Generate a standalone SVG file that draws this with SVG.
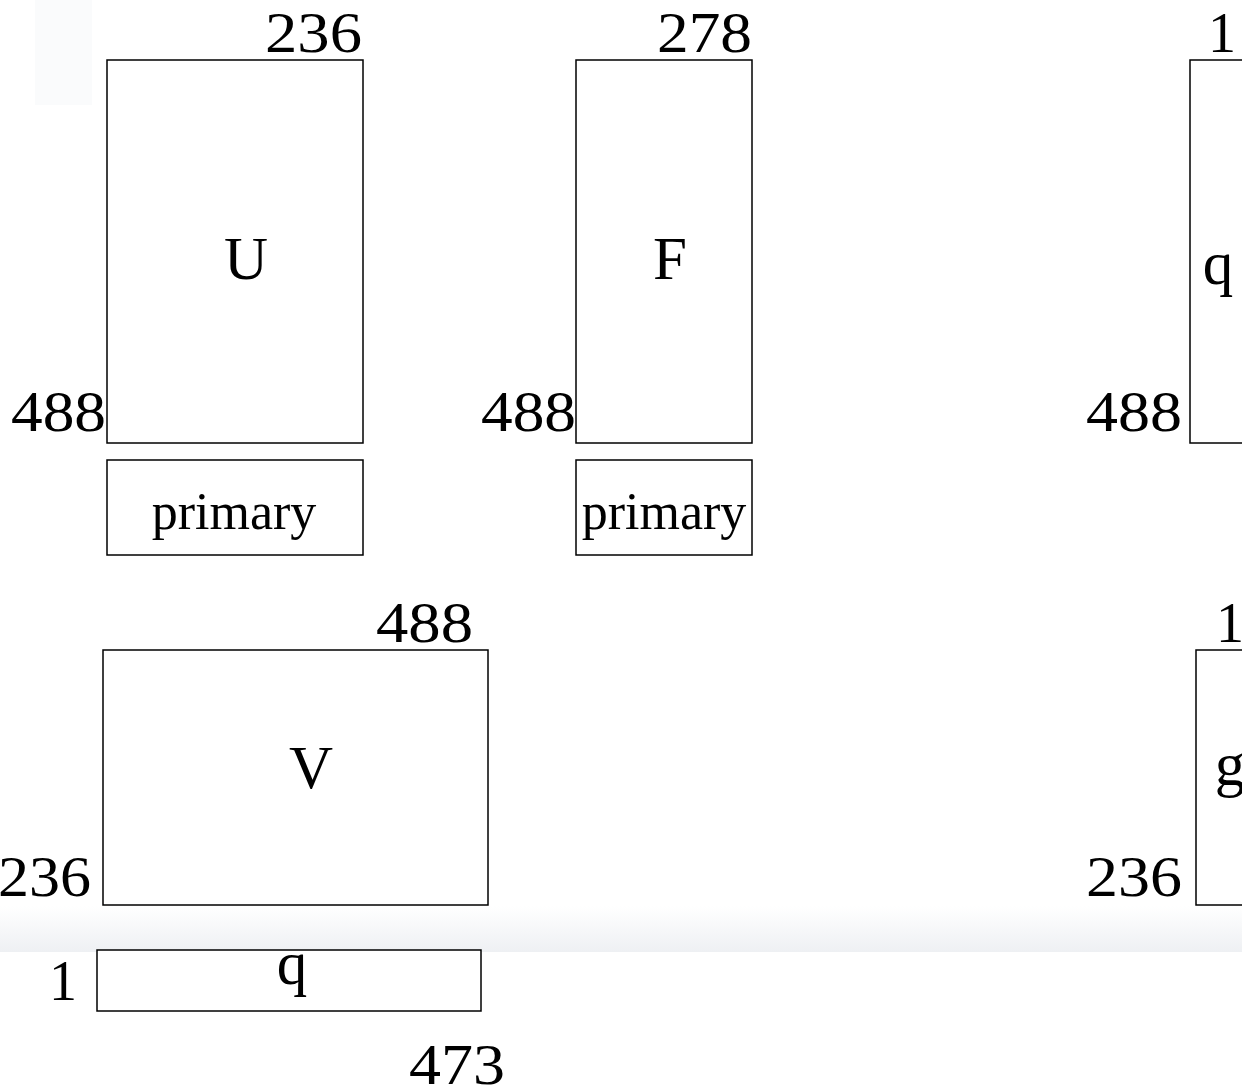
<svg xmlns="http://www.w3.org/2000/svg" width="1242" height="1091" viewBox="0 0 1242 1091">
  <style>
    .box { fill: #ffffff; stroke: #000000; stroke-width: 1.5; }
    .num { font-family: "Liberation Serif", "Times New Roman", serif; font-size: 56px; fill: #000000; }
    .name { font-family: "Liberation Serif", "Times New Roman", serif; font-size: 61px; fill: #000000; text-anchor: middle; }
    .tag { font-family: "Liberation Serif", "Times New Roman", serif; font-size: 52px; fill: #000000; text-anchor: middle; }
  </style>
  <defs>
    <linearGradient id="band" x1="0" y1="0" x2="0" y2="1">
      <stop offset="0" stop-color="#ffffff"/>
      <stop offset="1" stop-color="#eef0f3"/>
    </linearGradient>
  </defs>
  <rect width="1242" height="1091" fill="#ffffff"/>
  <rect x="35" y="0" width="57" height="105" fill="#fafbfc"/>
  <rect x="0" y="906" width="1242" height="46" fill="url(#band)"/>

  <g id="node-U">
    <rect class="box" x="107" y="60" width="256" height="383"/>
    <text class="num" x="265" y="52" textLength="97" lengthAdjust="spacingAndGlyphs">236</text>
    <text class="num" x="11" y="431" textLength="95" lengthAdjust="spacingAndGlyphs">488</text>
    <text class="name" x="246" y="279">U</text>
  </g>
  <g id="node-U-primary">
    <rect class="box" x="107" y="460" width="256" height="95"/>
    <text class="tag" x="234" y="529">primary</text>
  </g>

  <g id="node-F">
    <rect class="box" x="576" y="60" width="176" height="383"/>
    <text class="num" x="657" y="52" textLength="95" lengthAdjust="spacingAndGlyphs">278</text>
    <text class="num" x="481" y="431" textLength="95" lengthAdjust="spacingAndGlyphs">488</text>
    <text class="name" x="670" y="279">F</text>
  </g>
  <g id="node-F-primary">
    <rect class="box" x="576" y="460" width="176" height="95"/>
    <text class="tag" x="664" y="529">primary</text>
  </g>

  <g id="node-q">
    <rect class="box" x="1190" y="60" width="80" height="383"/>
    <text class="num" x="1208" y="52">1</text>
    <text class="num" x="1086" y="431" textLength="96" lengthAdjust="spacingAndGlyphs">488</text>
    <text class="name" x="1218" y="284">q</text>
  </g>

  <g id="node-g">
    <rect class="box" x="1196" y="650" width="80" height="255"/>
    <text class="num" x="1216" y="642">1</text>
    <text class="num" x="1086" y="896" textLength="96" lengthAdjust="spacingAndGlyphs">236</text>
    <text class="name" x="1230" y="785">g</text>
  </g>

  <g id="node-V">
    <rect class="box" x="103" y="650" width="385" height="255"/>
    <text class="num" x="376" y="642" textLength="97" lengthAdjust="spacingAndGlyphs">488</text>
    <text class="num" x="-2" y="896" textLength="93" lengthAdjust="spacingAndGlyphs">236</text>
    <text class="name" x="311" y="788">V</text>
  </g>

  <g id="node-q-bar">
    <rect class="box" x="97" y="950" width="384" height="61"/>
    <text class="num" x="49" y="1000">1</text>
    <text class="name" x="292" y="984">q</text>
    <text class="num" x="409" y="1084" textLength="96" lengthAdjust="spacingAndGlyphs">473</text>
  </g>

  <g id="connectors"></g>
</svg>
